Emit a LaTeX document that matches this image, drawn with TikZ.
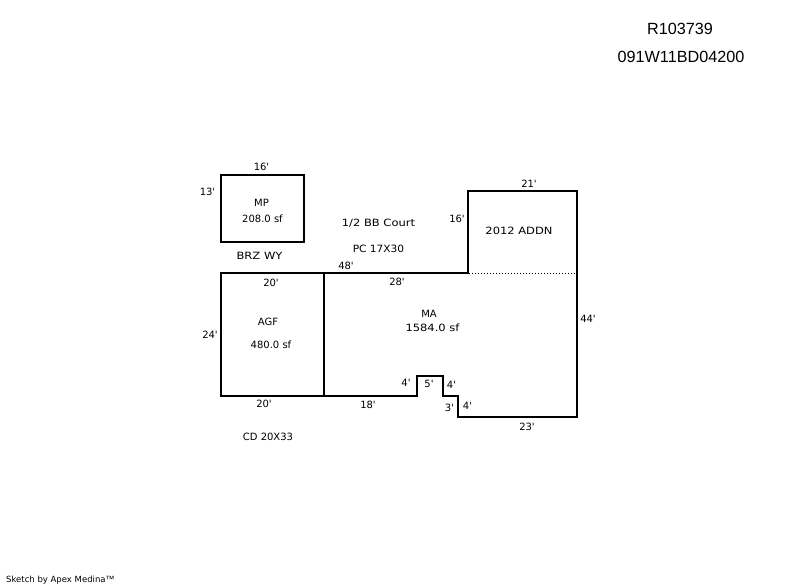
\documentclass[tikz,border=0pt]{standalone}
\usepackage{fontspec}
\newfontfamily\plainfont{DejaVu Sans}
\newfontfamily\widefont{DejaVu Sans}[FakeStretch=1.15]
\newfontfamily\midfont{DejaVu Sans}[FakeStretch=1.06]
\newfontfamily\headfont{Liberation Sans}
\tikzset{
  wall/.style={draw=black,line width=2pt,line join=miter},
  lbl/.style={inner sep=0pt,font=\plainfont\fontsize{10}{12}\selectfont,text=black},
  widelbl/.style={inner sep=0pt,font=\widefont\fontsize{10}{12}\selectfont,text=black},
  midlbl/.style={inner sep=0pt,font=\midfont\fontsize{10}{12}\selectfont,text=black},
  head/.style={inner sep=0pt,font=\headfont\fontsize{16.2}{18}\selectfont,text=black},
  small/.style={inner sep=0pt,font=\plainfont\fontsize{8.5}{10}\selectfont,text=black}
}
\begin{document}
\begin{tikzpicture}[x=1pt,y=-1pt]
\useasboundingbox[fill=white] (0,0) rectangle (800,587);
% walls
\draw[wall] (221,175) rectangle (304,242);
\draw[wall] (221,273) rectangle (324,396);
\draw[wall] (324,273) -- (468,273) -- (468,191) -- (577,191) -- (577,417) -- (458,417) -- (458,396) -- (443,396) -- (443,376) -- (417,376) -- (417,396) -- (324,396);
\draw[draw=black,line width=1pt,dotted] (469,273) -- (576,273);
% header
\node[head] (rn) at (680,28.5) {R103739};
\node[head] (pin) at (681,56.5) {091W11BD04200};
% MP
\node[lbl] (d16a) at (261.5,167) {16'};
\node[lbl] (d13) at (207.5,192) {13'};
\node[lbl] (mp) at (261.5,203) {MP};
\node[lbl] (mpa) at (262.5,219) {208.0 sf};
% free labels
\node[widelbl] (brz) at (259.5,256) {BRZ WY};
\node[widelbl] (bb) at (378.5,223) {1/2 BB Court};
\node[midlbl] (pc) at (378.5,249) {PC 17X30};
\node[lbl] (d48) at (346,266) {48'};
\node[lbl] (d16b) at (457,219) {16'};
\node[lbl] (d21) at (529,184) {21'};
\node[widelbl] (addn) at (519,231) {2012 ADDN};
\node[lbl] (d28) at (397,282) {28'};
\node[lbl] (d20a) at (271,283) {20'};
\node[lbl] (d24) at (210,335) {24'};
\node[lbl] (agf) at (268,322) {AGF};
\node[lbl] (agfa) at (271,345) {480.0 sf};
\node[lbl] (ma) at (429,314) {MA};
\node[widelbl] (maa) at (432.5,328) {1584.0 sf};
\node[lbl] (d44) at (588,319) {44'};
\node[lbl] (d20b) at (264,404) {20'};
\node[lbl] (d18) at (368,405) {18'};
\node[lbl] (d4a) at (406,383) {4'};
\node[lbl] (d5) at (429,384) {5'};
\node[lbl] (d4b) at (451.5,385) {4'};
\node[lbl] (d3) at (449.5,408) {3'};
\node[lbl] (d4c) at (467.5,406) {4'};
\node[lbl] (d23) at (527,427) {23'};
\node[lbl] (cd) at (268,437) {CD 20X33};
\node[small,anchor=west] (credit) at (6,580.5) {Sketch by Apex Medina{\headfont\fontsize{9}{10}\selectfont ™}};
\end{tikzpicture}
\end{document}
